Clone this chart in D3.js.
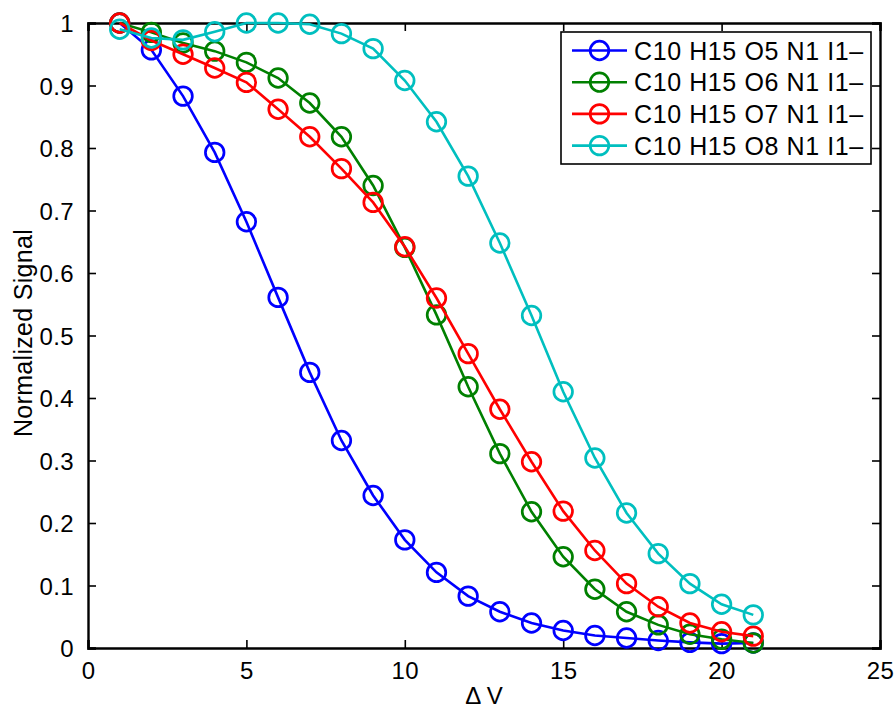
<!DOCTYPE html>
<html>
<head>
<meta charset="utf-8">
<script src="https://cdn.jsdelivr.net/npm/d3@7"></script>
<style>
  body { margin: 0; background: #fff; }
  text { font-family: "Liberation Sans", Arial, Helvetica, sans-serif; fill: #000; }
</style>
</head>
<body>
<div id="chart"></div>
<script>
var dv = [1,2,3,4,5,6,7,8,9,10,11,12,13,14,15,16,17,18,19,20,21]

var o5 = [1.0,0.957,0.883,0.793,0.682,0.561,0.441,0.332,0.244,0.173,0.121,0.083,0.058,0.040,0.028,0.020,0.016,0.012,0.009,0.007,0.008]
var o6 = [1.0,0.985,0.968,0.955,0.937,0.912,0.872,0.818,0.740,0.641,0.533,0.418,0.311,0.218,0.146,0.094,0.058,0.037,0.022,0.014,0.008]
var o7 = [1.0,0.972,0.950,0.928,0.905,0.862,0.818,0.767,0.713,0.642,0.560,0.471,0.382,0.298,0.219,0.156,0.103,0.066,0.040,0.026,0.019]
var o8 = [0.990,0.976,0.973,0.986,1.0,1.0,0.998,0.983,0.959,0.908,0.842,0.755,0.648,0.532,0.410,0.304,0.216,0.151,0.103,0.070,0.053]

var names = ["C10 H15 O5 N1 I1\u2013","C10 H15 O6 N1 I1\u2013","C10 H15 O7 N1 I1\u2013","C10 H15 O8 N1 I1\u2013"]
var colors = ["#0000ff","#008000","#ff0000","#00bfbf"]
var xTicks = [0,5,10,15,20,25]
var yTicks = [0,0.1,0.2,0.3,0.4,0.5,0.6,0.7,0.8,0.9,1]

var w = 896, h = 709
var margin = {top: 23, right: 16, bottom: 61, left: 88}
var innerWidth = w - margin.left - margin.right
var innerHeight = h - margin.top - margin.bottom

var svg = d3.select("#chart").append("svg")
    .attr("width", w)
    .attr("height", h)

var xScale = d3.scaleLinear().domain([0, 25]).range([0, innerWidth])
var yScale = d3.scaleLinear().domain([0, 1]).range([innerHeight, 0])

var g = svg.append("g")
    .attr("transform", `translate (${margin.left}, ${margin.top})`)

// axes, ticks pointing inward like matlab
var xAxis = d3.axisBottom(xScale).tickValues(xTicks).tickSize(-8).tickPadding(14).tickFormat(d3.format("d"))
var yAxis = d3.axisLeft(yScale).tickValues(yTicks).tickSize(-8).tickPadding(14).tickFormat(d => d == 0 || d == 1 ? d : d3.format(".1f")(d))
var xTop = d3.axisTop(xScale).tickValues(xTicks).tickSize(-8).tickFormat("")
var yRight = d3.axisRight(yScale).tickValues(yTicks).tickSize(-8).tickFormat("")

g.append("g").attr("class", "xAxis").attr("transform", `translate (0, ${innerHeight})`).call(xAxis)
g.append("g").attr("class", "yAxis").call(yAxis)
g.append("g").attr("class", "box").call(xTop)
g.append("g").attr("class", "box").attr("transform", `translate (${innerWidth}, 0)`).call(yRight)
g.selectAll(".box text").remove()

g.selectAll(".domain").attr("stroke", "#000").attr("stroke-width", 2.4)
g.selectAll(".tick line").attr("stroke", "#000").attr("stroke-width", 1.6)
g.selectAll(".tick text").style("font-size", "24px").style("fill", "#000").style("letter-spacing", "0.4px")
g.select(".yAxis").selectAll(".tick text").attr("dy", "0.36em")

// series
var series = [o5, o6, o7, o8]
var line = d3.line()
    .x((d, i) => xScale(dv[i]))
    .y(d => yScale(d))

series.forEach(function(vals, k){
  g.append("path")
      .datum(vals)
      .attr("d", line)
      .attr("fill", "none")
      .attr("stroke", colors[k])
      .attr("stroke-width", 2.6)
  g.selectAll(".m" + k)
      .data(vals)
    .enter().append("circle")
      .attr("class", "m" + k)
      .attr("cx", (d, i) => xScale(dv[i]))
      .attr("cy", d => yScale(d))
      .attr("r", 9.3)
      .attr("fill", "none")
      .attr("stroke", colors[k])
      .attr("stroke-width", 2.7)
})

// labels
svg.append("text")
    .attr("transform", "rotate(-90)")
    .attr("x", -333)
    .attr("y", 32)
    .style("text-anchor", "middle")
    .style("font-size", "25px")
    .style("letter-spacing", "0.3px")
    .text("Normalized Signal")

svg.append("text")
    .attr("x", margin.left + innerWidth / 2)
    .attr("y", 704)
    .style("text-anchor", "middle")
    .style("font-size", "24px")
    .text("\u0394 V")

// legend
var leg = svg.append("g").attr("transform", "translate(561, 32)")
leg.append("rect")
    .attr("width", 310)
    .attr("height", 132)
    .attr("fill", "#fff")
    .attr("stroke", "#000")
    .attr("stroke-width", 1.6)
names.forEach(function(name, k){
  var yy = 18.5 + k * 31.7
  leg.append("line")
      .attr("x1", 11).attr("x2", 66)
      .attr("y1", yy).attr("y2", yy)
      .attr("stroke", colors[k]).attr("stroke-width", 2.6)
  leg.append("circle")
      .attr("cx", 38.5).attr("cy", yy).attr("r", 9.3)
      .attr("fill", "none").attr("stroke", colors[k]).attr("stroke-width", 2.7)
  leg.append("text")
      .attr("x", 73)
      .attr("y", yy + 9)
      .style("font-size", "25px")
      .style("letter-spacing", "0.6px")
      .text(name)
})
</script>
</body>
</html>
